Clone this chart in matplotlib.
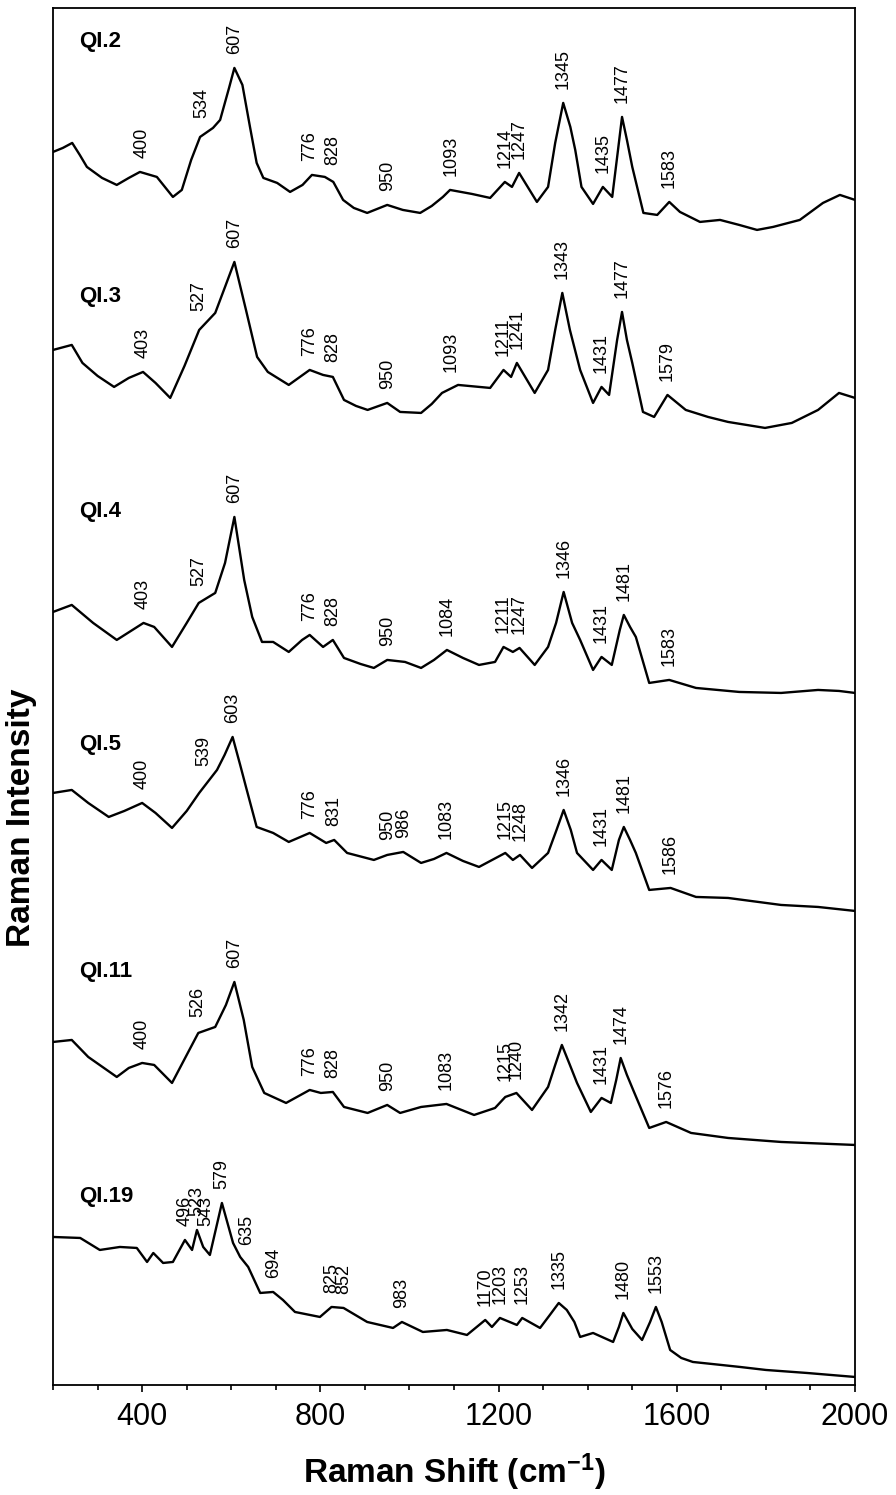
import matplotlib
matplotlib.use("Agg")
import matplotlib.pyplot as plt
from matplotlib.ticker import MultipleLocator
import numpy as np

plt.rcParams['font.family'] = ['Liberation Sans', 'DejaVu Sans']
plt.rcParams['mathtext.default'] = 'regular'

# spektra (Raman shift, intensitet i godtyckliga enheter)
qi2_x = [200, 222, 243, 260, 276, 310, 343, 370, 395, 433, 469, 489, 510, 530, 559, 575, 595, 607, 625, 642,
         657, 672, 703, 732, 760, 781, 810, 829, 851, 875, 905, 950, 985, 1024, 1050, 1075, 1091, 1140, 1181,
         1214, 1230, 1246, 1286, 1311, 1327, 1345, 1361, 1372, 1386, 1412, 1434, 1455, 1468, 1477, 1488, 1500,
         1525, 1556, 1583, 1607, 1652, 1697, 1740, 1780, 1816, 1876, 1928, 1966, 2000]
qi2_y = [78, 82, 87, 75, 63, 52, 45, 52, 58, 53, 33, 40, 70, 93, 102, 110, 142, 162, 145, 103,
         67, 52, 47, 38, 45, 55, 53, 48, 30, 22, 17, 25, 20, 17, 24, 33, 40, 36, 32,
         48, 43, 57, 28, 43, 87, 127, 103, 80, 43, 26, 43, 33, 80, 113, 90, 63,
         17, 15, 28, 18, 8, 10, 5, 0, 3, 10, 27, 35, 30]

qi3_x = [200, 242, 266, 300, 337, 370, 402, 430, 463, 495, 528, 564, 586, 607, 633, 658, 682, 729, 776, 806,
         828, 853, 880, 906, 950, 979, 1026, 1050, 1073, 1109, 1181, 1211, 1228, 1241, 1281, 1311, 1327, 1343,
         1360, 1383, 1412, 1431, 1448, 1466, 1477, 1488, 1500, 1524, 1549, 1579, 1620, 1670, 1715, 1798, 1858,
         1917, 1964, 2000]
qi3_y = [78, 83, 65, 52, 41, 50, 56, 45, 30, 62, 98, 115, 141, 166, 118, 71, 56, 43, 58, 53,
         51, 28, 22, 18, 25, 16, 15, 24, 35, 43, 40, 58, 51, 65, 35, 58, 98, 135,
         98, 58, 25, 41, 33, 88, 116, 88, 65, 16, 11, 33, 18, 11, 6, 0, 5,
         18, 35, 30]

qi4_x = [200, 242, 290, 343, 403, 427, 467, 500, 527, 564, 586, 607, 629, 647, 669, 694, 729, 759, 776, 806,
         828, 853, 890, 920, 950, 990, 1026, 1055, 1084, 1120, 1156, 1192, 1211, 1232, 1247, 1281, 1311, 1329,
         1346, 1365, 1383, 1412, 1431, 1454, 1472, 1481, 1495, 1508, 1538, 1583, 1643, 1740, 1834, 1917, 1964,
         2000]
qi4_y = [81, 88, 70, 53, 70, 66, 46, 70, 90, 100, 130, 176, 113, 76, 51, 51, 41, 53, 58, 46,
         53, 35, 29, 25, 33, 31, 25, 33, 43, 35, 28, 31, 46, 41, 45, 28, 46, 70,
         101, 70, 53, 23, 36, 28, 63, 78, 66, 56, 10, 13, 5, 1, 0, 3, 2,
         0]

qi5_x = [200, 242, 279, 325, 360, 400, 430, 467, 500, 528, 568, 585, 603, 620, 633, 657, 694, 729, 776, 813,
         831, 860, 920, 950, 986, 1026, 1055, 1083, 1120, 1156, 1215, 1232, 1248, 1275, 1311, 1330, 1346, 1362,
         1376, 1412, 1431, 1454, 1470, 1481, 1495, 1508, 1538, 1586, 1643, 1715, 1834, 1917, 2000]
qi5_y = [118, 121, 108, 94, 100, 108, 98, 83, 100, 118, 141, 156, 174, 146, 124, 84, 78, 69, 78, 68,
         71, 58, 51, 56, 59, 48, 52, 58, 50, 44, 58, 51, 56, 43, 58, 81, 101, 81,
         58, 41, 51, 41, 71, 84, 71, 58, 21, 23, 14, 13, 6, 4, 0]

qi11_x = [200, 242, 279, 343, 370, 400, 427, 467, 500, 526, 564, 588, 607, 628, 647, 674, 723, 776, 801, 828,
          853, 906, 950, 979, 1026, 1083, 1145, 1192, 1215, 1240, 1275, 1311, 1327, 1342, 1360, 1376, 1407, 1431,
          1452, 1464, 1474, 1488, 1502, 1538, 1576, 1632, 1715, 1834, 2000]
qi11_y = [103, 105, 88, 68, 77, 82, 80, 62, 90, 112, 118, 140, 163, 125, 78, 52, 42, 55, 52, 53,
          38, 32, 40, 32, 38, 41, 30, 37, 48, 52, 35, 58, 80, 100, 80, 62, 33, 47,
          42, 65, 87, 70, 55, 17, 23, 12, 7, 3, 0]

qi19_x = [200, 261, 305, 350, 388, 411, 425, 447, 469, 496, 512, 523, 537, 552, 579, 604, 620, 638, 665, 694,
          716, 743, 799, 825, 852, 905, 963, 983, 1030, 1084, 1129, 1170, 1185, 1203, 1241, 1253, 1293, 1315,
          1335, 1353, 1370, 1383, 1412, 1457, 1470, 1480, 1500, 1522, 1540, 1553, 1566, 1585, 1610, 1636, 1700,
          1742, 1800, 1892, 2000]
qi19_y = [140, 139, 127, 130, 129, 115, 124, 114, 115, 137, 127, 147, 130, 122, 174, 134, 120, 110, 84, 85,
          77, 65, 60, 70, 69, 55, 49, 55, 45, 47, 42, 57, 50, 59, 52, 59, 49, 62,
          74, 67, 55, 40, 44, 35, 50, 64, 48, 37, 55, 70, 55, 27, 19, 15, 12,
          10, 7, 4, 0]

names = ["QI.2", "QI.3", "QI.4", "QI.5", "QI.11", "QI.19"]
spectra_x = [qi2_x, qi3_x, qi4_x, qi5_x, qi11_x, qi19_x]
spectra_y = [qi2_y, qi3_y, qi4_y, qi5_y, qi11_y, qi19_y]
offsets = [1155, 957, 692, 474, 240, 8]

peaks = [
    [400, 534, 607, 776, 828, 950, 1093, 1214, 1247, 1345, 1435, 1477, 1583],
    [403, 527, 607, 776, 828, 950, 1093, 1211, 1241, 1343, 1431, 1477, 1579],
    [403, 527, 607, 776, 828, 950, 1084, 1211, 1247, 1346, 1431, 1481, 1583],
    [400, 539, 603, 776, 831, 950, 986, 1083, 1215, 1248, 1346, 1431, 1481, 1586],
    [400, 526, 607, 776, 828, 950, 1083, 1215, 1240, 1342, 1431, 1474, 1576],
    [496, 523, 543, 579, 635, 694, 825, 852, 983, 1170, 1203, 1253, 1335, 1480, 1553],
]

# var provnamnen står (y i samma enheter som axeln)
name_y = [1343, 1088, 873, 640, 413, 188]

fig = plt.figure(figsize=(8.96, 14.95), dpi=100)
ax = fig.add_axes([0.0592, 0.0736, 0.8951, 0.9211])

grid = np.arange(200, 2001)
for i in range(len(names)):
    x = np.array(spectra_x[i])
    y = np.array(spectra_y[i]) + offsets[i]
    ax.plot(x, y, color="black", lw=1.7)

    # toppetiketter lite ovanför kurvan
    curve = np.interp(grid, x, y)
    for p in peaks[i]:
        near = curve[(grid >= p - 12) & (grid <= p + 12)]
        ax.text(p, near.max() + 14, str(p), rotation=90, ha="center", va="bottom",
                fontsize=13)

    ax.text(258, name_y[i], names[i], fontsize=16, fontweight="bold", ha="left", va="center")

ax.set_xlim(200, 2000)
ax.set_ylim(0, 1377)
ax.xaxis.set_major_locator(MultipleLocator(400))
ax.xaxis.set_minor_locator(MultipleLocator(100))
ax.tick_params(axis="x", which="major", direction="out", length=5, width=1.2, labelsize=22, pad=7)
ax.tick_params(axis="x", which="minor", direction="out", length=3.5, width=1.2)
ax.set_yticks([])
for s in ax.spines.values():
    s.set_linewidth(1.3)

ax.set_xlabel("Raman Shift (cm$^{-1}$)", fontsize=24, fontweight="bold", labelpad=14)
ax.set_ylabel("Raman Intensity", fontsize=24, fontweight="bold")
ax.yaxis.set_label_coords(-0.02, 0.412)

fig.savefig("out.png", dpi=100)
